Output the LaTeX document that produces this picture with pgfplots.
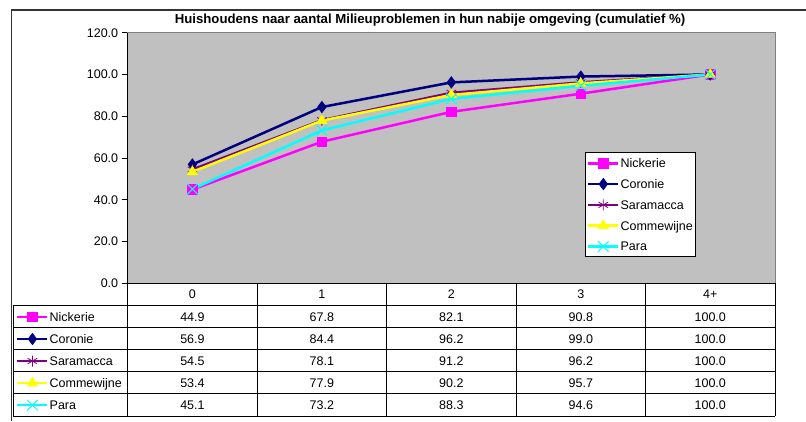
\documentclass[border=0pt]{standalone}
\usepackage{pgfplots}
\pgfplotsset{compat=1.18}
\usepackage{pgfplotstable}
\usepackage{fontspec}
\setmainfont{Liberation Sans}
\definecolor{plotgray}{HTML}{C0C0C0}
\definecolor{cnavy}{HTML}{000080}
\definecolor{cpurple}{HTML}{800080}
\definecolor{cmag}{HTML}{FF00FF}
\definecolor{cyel}{HTML}{FFFF00}
\definecolor{ccyan}{HTML}{00FFFF}
\newcommand\cf{\fontsize{12.5}{14}\selectfont}

\pgfplotstableread{
x Nickerie Coronie Saramacca Commewijne Para
0 44.9 56.9 54.5 53.4 45.1
1 67.8 84.4 78.1 77.9 73.2
2 82.1 96.2 91.2 90.2 88.3
3 90.8 99.0 96.2 95.7 94.6
4 100.0 100.0 100.0 100.0 100.0
}\data

\pgfplotsset{
 snick/.style={color=cmag, line width=2.5pt, mark=square*, mark size=4.8pt, mark options={fill=cmag, line width=0.5pt}},
 scor/.style={color=cnavy, line width=2.5pt, mark=diamond*, mark size=5.8pt, mark options={fill=cnavy, line width=0.5pt}},
 ssar/.style={color=cpurple, line width=2.5pt, mark=asterisk, mark size=5.5pt, mark options={line width=0.8pt}},
 scom/.style={color=cyel, line width=2.5pt, mark=triangle*, mark size=6pt, mark options={fill=cyel, line width=0.5pt}},
 spara/.style={color=ccyan, line width=2.5pt, mark=x, mark size=7.5pt, mark options={line width=1pt}},
 myleg/.style={legend image code/.code={\draw[mark repeat=2,mark phase=2] plot coordinates {(0pt,0pt) (15pt,0pt) (30pt,0pt)};}},
}

\begin{document}
\begin{tikzpicture}[x=1pt,y=1pt]
\useasboundingbox (0,0) rectangle (806,421);
% outer frame
\draw[line width=1.3pt, black!80] (11.7,0) -- (11.7,411) -- (806,411);
% title
\node[font=\fontsize{13.2}{15}\selectfont\bfseries] at (430,401) {Huishoudens naar aantal Milieuproblemen in hun nabije omgeving (cumulatief \%)};

\begin{axis}[
  at={(127.7pt,137.7pt)}, anchor=south west,
  scale only axis, width=647.3pt, height=250.6pt,
  xmin=-0.5, xmax=4.5, ymin=0, ymax=120,
  xtick=\empty, ytick={0,20,...,120},
  /pgf/number format/assume math mode=true,
  yticklabel style={font=\cf, /pgf/number format/.cd, fixed, fixed zerofill, precision=1},
  axis background/.style={fill=plotgray},
  axis line style={draw=black!50, line width=0.8pt},
  tick align=outside, ytick pos=left, major tick length=6pt,
  tick style={black, line width=0.8pt},
  clip=false,
  myleg,
  legend style={at={(0.706,0.522)}, anchor=north west, draw=black, fill=white,
    font=\cf, inner xsep=2pt, inner ysep=0pt, row sep=0pt, line width=0.8pt,
    nodes={inner sep=1pt, minimum height=20.8pt, text depth=0pt}},
  legend cell align=left,
]
\addplot[snick] table[x=x,y=Nickerie]{\data};
\addlegendentry{Nickerie}
\addplot[scor] table[x=x,y=Coronie]{\data};
\addlegendentry{Coronie}
\addplot[ssar] table[x=x,y=Saramacca]{\data};
\addlegendentry{Saramacca}
\addplot[scom] table[x=x,y=Commewijne]{\data};
\addlegendentry{Commewijne}
\addplot[spara] table[x=x,y=Para]{\data};
\addlegendentry{Para}
\draw[black, line width=1pt] (rel axis cs:0,0) -- (rel axis cs:0,1);
\end{axis}

% legend keys of the data table
\begin{axis}[
  at={(127.7pt,137.7pt)}, anchor=south west,
  scale only axis, width=647.3pt, height=250.6pt,
  xmin=-0.5, xmax=4.5, ymin=0, ymax=120,
  hide axis, myleg,
  legend style={at={(-0.1757,-0.0894)}, anchor=north west, draw=none, fill=none,
    font=\cf, inner xsep=2pt, inner ysep=0pt, row sep=0pt,
    nodes={inner sep=1pt, minimum height=22.06pt, text depth=0pt}},
  legend cell align=left,
]
\addlegendimage{snick}
\addlegendentry{Nickerie}
\addlegendimage{scor}
\addlegendentry{Coronie}
\addlegendimage{ssar}
\addlegendentry{Saramacca}
\addlegendimage{scom}
\addlegendentry{Commewijne}
\addlegendimage{spara}
\addlegendentry{Para}
\end{axis}

% data table
\begin{scope}[line width=1pt]
\draw (127.7,{421-283.3}) -- (775,{421-283.3});
\foreach \k in {0,...,5} {
  \draw (13.3,{421-305.7-22.06*\k}) -- (775,{421-305.7-22.06*\k});
}
\draw (13.3,{421-305.7}) -- (13.3,{421-416});
\foreach \i in {0,...,5} {
  \draw ({127.7+129.46*\i},{421-283.3}) -- ({127.7+129.46*\i},{421-416});
}
\end{scope}
\foreach [count=\i from 0] \h in {0,1,2,3,4+} {
  \node[font=\cf] at ({192.43+129.46*\i},{421-294.5}) {\h};
}
\foreach [count=\r from 0] \row in {
  {44.9,67.8,82.1,90.8,100.0},
  {56.9,84.4,96.2,99.0,100.0},
  {54.5,78.1,91.2,96.2,100.0},
  {53.4,77.9,90.2,95.7,100.0},
  {45.1,73.2,88.3,94.6,100.0}} {
  \foreach [count=\i from 0] \v in \row {
    \node[font=\cf] at ({192.43+129.46*\i},{421-316.73-22.06*\r}) {\v};
  }
}
\end{tikzpicture}
\end{document}
